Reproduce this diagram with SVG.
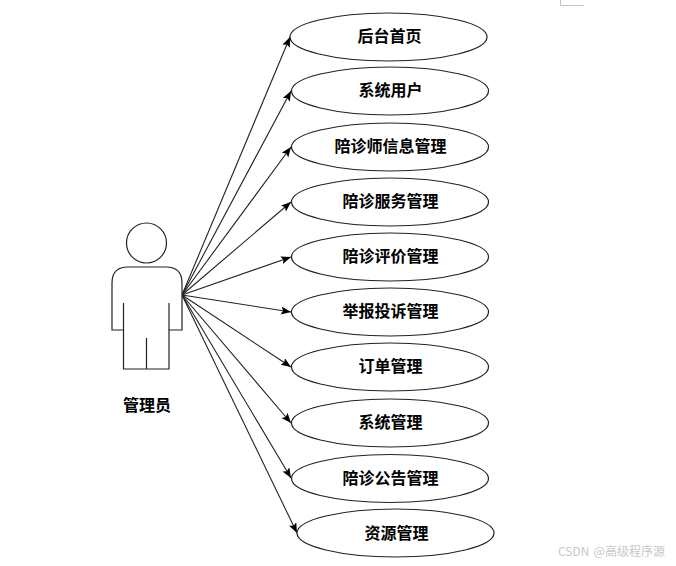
<svg xmlns="http://www.w3.org/2000/svg" width="676" height="566" viewBox="0 0 676 566">
<style>
.s{fill:#fff;stroke:#222;stroke-width:1.2}
.n{fill:none;stroke:#222;stroke-width:1.2}
.c{fill:none;stroke:#222;stroke-width:1.1;marker-end:url(#a)}
.t{font-family:"Noto Sans CJK SC",sans-serif;font-size:16px;font-weight:700;fill:#000;text-anchor:middle}
.w{font-family:"Noto Sans CJK SC",sans-serif;font-size:12px;fill:#c8c8c8}
</style>
<defs><marker id="a" markerUnits="userSpaceOnUse" markerWidth="11" markerHeight="9" refX="10" refY="4" orient="auto"><path d="M0 0L10 4L0 8L2 4Z" fill="#000"/></marker></defs>
<rect width="676" height="566" fill="#fff"/>
<path d="M560.500 0V5.500H584" fill="none" stroke="#c4c4c4"/>
<g id="connectors">
<path class="c" d="M182 295L290 37"/>
<path class="c" d="M182 295L291 91"/>
<path class="c" d="M182 295L291 147"/>
<path class="c" d="M182 295L291 202"/>
<path class="c" d="M182 295L291 257"/>
<path class="c" d="M182 295L291 312"/>
<path class="c" d="M182 295L291 367"/>
<path class="c" d="M182 295L291 423"/>
<path class="c" d="M182 295L291 478"/>
<path class="c" d="M182 295L297 533"/>
</g>
<g id="actor">
<circle class="s" cx="146.500" cy="243" r="20"/>
<path class="s" d="M112 330V283Q112 267 128 267H166Q182 267 182 283V330H169V369H123.500V330Z"/>
<path class="n" d="M123.500 303V330M169 303V330M146.500 338V369"/>
<text class="t" x="147" y="411">管理员</text>
</g>
<g id="n1"><ellipse class="s" cx="388.500" cy="37" rx="98.500" ry="24"/><text class="t" x="389.500" y="42">后台首页</text></g>
<g id="n2"><ellipse class="s" cx="390" cy="91" rx="98.500" ry="24"/><text class="t" x="390.500" y="96">系统用户</text></g>
<g id="n3"><ellipse class="s" cx="390" cy="147" rx="98.500" ry="24"/><text class="t" x="390.500" y="152">陪诊师信息管理</text></g>
<g id="n4"><ellipse class="s" cx="390" cy="202" rx="98.500" ry="24"/><text class="t" x="390.500" y="207">陪诊服务管理</text></g>
<g id="n5"><ellipse class="s" cx="390" cy="257" rx="98.500" ry="24"/><text class="t" x="390.500" y="262">陪诊评价管理</text></g>
<g id="n6"><ellipse class="s" cx="390" cy="312" rx="98.500" ry="24"/><text class="t" x="390.500" y="317">举报投诉管理</text></g>
<g id="n7"><ellipse class="s" cx="390" cy="367" rx="98.500" ry="24"/><text class="t" x="390.500" y="372">订单管理</text></g>
<g id="n8"><ellipse class="s" cx="390" cy="423" rx="98.500" ry="24"/><text class="t" x="390.500" y="428">系统管理</text></g>
<g id="n9"><ellipse class="s" cx="390" cy="478.500" rx="98.500" ry="24"/><text class="t" x="390.500" y="484">陪诊公告管理</text></g>
<g id="n10"><ellipse class="s" cx="395.500" cy="533" rx="98.500" ry="24"/><text class="t" x="396.500" y="539">资源管理</text></g>
<text class="w" x="558" y="556">CSDN <tspan dx="1.500">@高级程序源</tspan></text>
</svg>
